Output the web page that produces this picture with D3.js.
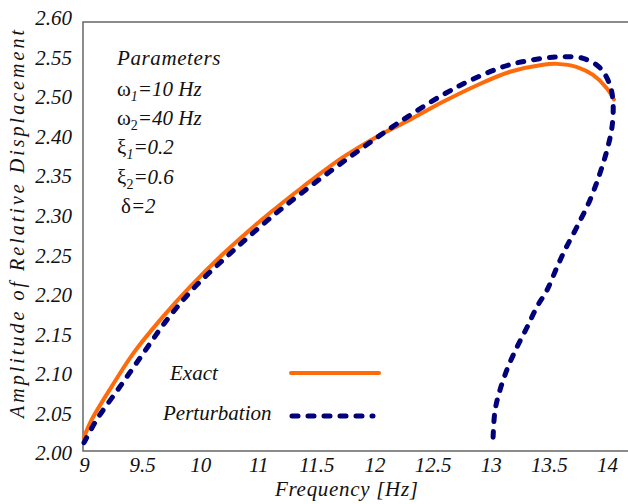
<!DOCTYPE html>
<html>
<head>
<meta charset="utf-8">
<script src="https://cdn.jsdelivr.net/npm/d3@7"></script>
<style>
  body { margin: 0; background: #fff; }
  svg { display: block; }
  svg text { font-family: "Liberation Serif", "Times New Roman", Times, "DejaVu Serif", serif; }
</style>
</head>
<body>
<div id="chart"></div>
<script>
// tick labels as printed on the original figure (10.5 and 2.45 are missing there)
const xTicks = [9, 9.5, 10, 11, 11.5, 12, 12.5, 13, 13.5, 14];
const yTicks = [2.00, 2.05, 2.10, 2.15, 2.20, 2.25, 2.30, 2.35, 2.40, 2.50, 2.55, 2.60];

// Exact solution
const exactFreq = [9.000, 9.066, 9.238, 9.424, 9.654, 9.912, 10.397, 11.029, 11.387, 11.729, 12.021,
  12.305, 12.589, 12.882, 13.166, 13.450, 13.570, 13.742, 13.880, 14.000, 14.06];
const exactAmp = [2.020, 2.042, 2.084, 2.126, 2.168, 2.210, 2.252, 2.295, 2.337, 2.374, 2.400,
  2.443, 2.488, 2.515, 2.532, 2.541, 2.542, 2.538, 2.528, 2.511, 2.494];

// Perturbation solution (upper branch then folding back down)
const pertFreq = [9.000, 9.109, 9.310, 9.510, 9.712, 9.955, 10.512, 11.086, 11.445, 11.832, 12.190,
  12.589, 12.882, 13.166, 13.450, 13.622, 13.794, 13.940, 14.026, 14.052, 14.043,
  14.000, 13.940, 13.854, 13.742, 13.639, 13.570, 13.484, 13.398, 13.312, 13.226, 13.149, 13.080,
  13.037, 13.020];
const pertAmp = [2.013, 2.042, 2.084, 2.126, 2.168, 2.210, 2.252, 2.295, 2.337, 2.379, 2.432,
  2.503, 2.525, 2.541, 2.549, 2.551, 2.549, 2.537, 2.515, 2.485, 2.424,
  2.383, 2.354, 2.320, 2.286, 2.257, 2.235, 2.206, 2.185, 2.159, 2.134, 2.109, 2.080,
  2.054, 2.020];

const paramLines = [
  { sym: "ω", sub: "1", subItalic: true, rest: "=10 Hz" },
  { sym: "ω", sub: "2", subItalic: false, rest: "=40 Hz" },
  { sym: "ξ", sub: "1", subItalic: true, rest: "=0.2" },
  { sym: "ξ", sub: "2", subItalic: false, rest: "=0.6" },
  { sym: "δ", sub: "", subItalic: false, rest: "=2" }
];

const W = 628, H = 504;
const frame = { left: 83, top: 22, bottom: 451 };
const orange = "#ff6a0a", navy = "#00007a";

const svg = d3.select("#chart").append("svg")
  .attr("width", W)
  .attr("height", H);

// tick labels are evenly spaced, so each scale is piecewise over its labels
const x = d3.scaleLinear()
  .domain(xTicks)
  .range(d3.quantize(d3.interpolate(84, 607), xTicks.length));
const y = d3.scaleLinear()
  .domain(yTicks)
  .range(d3.quantize(d3.interpolate(453, 18), yTicks.length));

// frame (left, top, bottom)
svg.append("path")
  .attr("d", `M${W},${frame.top}H${frame.left}V${frame.bottom}H${W}`)
  .attr("fill", "none")
  .attr("stroke", "#666")
  .attr("stroke-width", 1.5);

// axes
const xAxis = svg.append("g")
  .attr("transform", `translate(0,${frame.bottom})`)
  .call(d3.axisBottom(x).tickValues(xTicks).tickSize(0).tickPadding(6).tickFormat(d => d));
const yAxis = svg.append("g")
  .attr("transform", `translate(${frame.left},0)`)
  .call(d3.axisLeft(y).tickValues(yTicks).tickSize(0).tickPadding(11).tickFormat(d3.format(".2f")));
[xAxis, yAxis].forEach(g => {
  g.attr("font-family", null);
  g.select(".domain").remove();
  g.selectAll("text")
    .style("font-style", "italic")
    .style("font-size", "21px")
    .attr("fill", "#111");
});

// axis titles
svg.append("text")
  .attr("x", 275)
  .attr("y", 496)
  .attr("textLength", 143)
  .attr("lengthAdjust", "spacing")
  .style("font-style", "italic")
  .style("font-size", "21px")
  .attr("fill", "#111")
  .text("Frequency [Hz]");

svg.append("text")
  .attr("transform", "translate(24,418) rotate(-90)")
  .attr("textLength", 388)
  .attr("lengthAdjust", "spacing")
  .style("font-style", "italic")
  .style("font-size", "20px")
  .attr("fill", "#111")
  .text("Amplitude of Relative Displacement");

// curves
const line = d3.line()
  .x(d => x(d[0]))
  .y(d => y(d[1]))
  .curve(d3.curveCatmullRom.alpha(0.5));

svg.append("path")
  .datum(d3.zip(exactFreq, exactAmp))
  .attr("fill", "none")
  .attr("stroke", orange)
  .attr("stroke-width", 4)
  .attr("stroke-linecap", "round")
  .attr("d", line);

const pert = svg.append("path")
  .datum(d3.zip(pertFreq, pertAmp))
  .attr("fill", "none")
  .attr("stroke", navy)
  .attr("stroke-width", 5)
  .attr("stroke-linecap", "round")
  .attr("d", line);

// stretch the dash gap a little so the dashed curve starts and ends on a dash
const dash = 6;
const len = pert.node().getTotalLength();
const n = Math.round((len - dash) / 16);
pert.attr("stroke-dasharray", `${dash},${(len - dash) / n - dash}`);

// parameters block
const params = svg.append("g")
  .style("font-size", "21px")
  .attr("fill", "#111");
params.append("text")
  .attr("x", 117)
  .attr("y", 65)
  .style("font-style", "italic")
  .attr("letter-spacing", 0.6)
  .text("Parameters");
paramLines.forEach((p, i) => {
  const t = params.append("text")
    .attr("x", p.sym === "δ" ? 121 : 117)
    .attr("y", 96 + i * 29.2);
  t.append("tspan").text(p.sym);
  if (p.sub) {
    t.append("tspan")
      .style("font-size", "14px")
      .style("font-style", p.subItalic ? "italic" : "normal")
      .attr("dy", 5)
      .text(p.sub);
    t.append("tspan").attr("dy", -5).style("font-style", "italic").text(p.rest);
  } else {
    t.append("tspan").style("font-style", "italic").text(p.rest);
  }
});

// legend
const legend = svg.append("g")
  .style("font-style", "italic")
  .style("font-size", "21px")
  .attr("fill", "#111");
legend.append("text").attr("x", 170).attr("y", 380).text("Exact");
legend.append("text").attr("x", 163).attr("y", 420).text("Perturbation");
legend.append("line")
  .attr("x1", 291).attr("x2", 379).attr("y1", 373).attr("y2", 373)
  .attr("stroke", orange).attr("stroke-width", 4).attr("stroke-linecap", "round");
legend.append("line")
  .attr("x1", 292).attr("x2", 373).attr("y1", 416).attr("y2", 416)
  .attr("stroke", navy).attr("stroke-width", 5).attr("stroke-linecap", "round")
  .attr("stroke-dasharray", "6,10");
</script>
</body>
</html>
